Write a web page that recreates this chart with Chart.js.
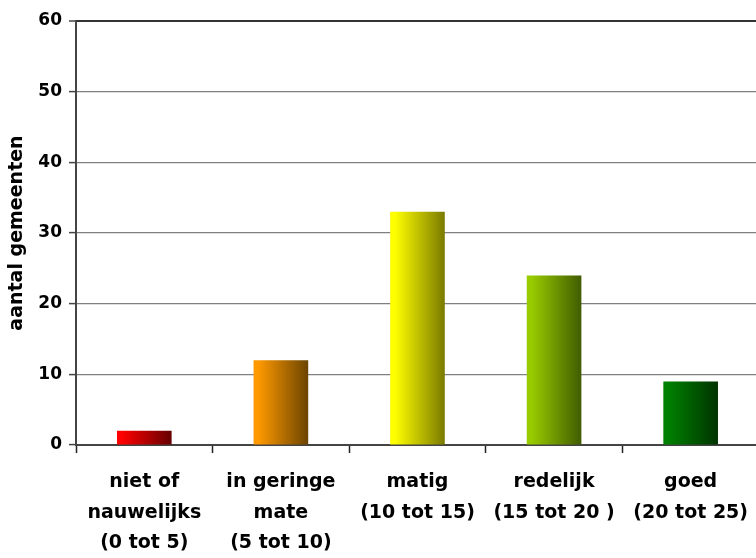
<!DOCTYPE html>
<html>
<head>
<meta charset="utf-8">
<title>aantal gemeenten</title>
<script src="https://cdn.jsdelivr.net/npm/chart.js@4/dist/chart.umd.min.js"></script>
<style>
  html, body { margin: 0; padding: 0; background: #ffffff; overflow: hidden; }
  #c { display: block; }
</style>
</head>
<body>
<!-- the plot runs slightly past the right edge of the window, so its right end is clipped -->
<canvas id="c" width="762" height="558"></canvas>
<script>
// Category labels (one entry per line of each label)
const categories = [
  ['niet of', 'nauwelijks', '(0 tot 5)'],
  ['in geringe', 'mate', '(5 tot 10)'],
  ['matig', '(10 tot 15)'],
  ['redelijk', '(15 tot 20 )'],
  ['goed', '(20 tot 25)']
];

// Number of municipalities per category
const counts = [2, 12, 33, 24, 9];

// Value axis range
const yMin = 0;
const yMax = 60;
const yStep = 10;

const yTitle = 'aantal gemeenten';

// Each bar is shaded from a bright left edge to a dark right edge
const lightColors = ['#ff0000', '#ff9900', '#ffff00', '#99cc00', '#008000'];
const darkColors  = ['#660000', '#6b4400', '#7a7a00', '#405c00', '#003300'];

const BAR_FRACTION = 0.4;
const FONT = '"DejaVu Sans", "Liberation Sans", Arial, sans-serif';

function barGradient(ctx) {
  const chart = ctx.chart;
  const xs = chart.scales && chart.scales.x;
  if (!chart.chartArea || !xs) return lightColors[ctx.dataIndex];
  const i = ctx.dataIndex;
  const center = xs.getPixelForValue(i);
  const half = (xs.width / categories.length) * BAR_FRACTION / 2;
  const g = chart.ctx.createLinearGradient(center - half, 0, center + half, 0);
  g.addColorStop(0, lightColors[i]);
  g.addColorStop(0.08, lightColors[i]);
  g.addColorStop(1, darkColors[i]);
  return g;
}

new Chart(document.getElementById('c'), {
  type: 'bar',
  data: {
    labels: categories,
    datasets: [{
      data: counts,
      backgroundColor: barGradient,
      borderWidth: 0,
      barPercentage: BAR_FRACTION,
      categoryPercentage: 1.0
    }]
  },
  options: {
    responsive: false,
    animation: false,
    devicePixelRatio: 1,
    layout: { padding: { top: 21, right: 0, bottom: 0, left: 0 } },
    plugins: {
      legend: { display: false },
      tooltip: { enabled: false }
    },
    scales: {
      x: {
        offset: true,
        grid: {
          offset: true,
          drawOnChartArea: false,
          drawTicks: true,
          tickLength: 8,
          tickColor: '#222222',
          tickWidth: 1.5
        },
        border: { display: true, color: '#444444', width: 2 },
        ticks: {
          color: '#000000',
          padding: 14,
          maxRotation: 0,
          minRotation: 0,
          autoSkip: false,
          font: { family: FONT, size: 19, weight: 'bold', lineHeight: 1.6 }
        },
        afterFit(scale) { scale.height = 113; }
      },
      y: {
        min: yMin,
        max: yMax,
        ticks: {
          stepSize: yStep,
          color: '#000000',
          padding: 7,
          font: { family: FONT, size: 17, weight: 'bold' }
        },
        grid: {
          color: (c) => (c.tick && c.tick.value === yMax ? '#333333' : '#808080'),
          lineWidth: (c) => (c.tick && c.tick.value === yMax ? 2 : 1.2),
          drawTicks: true,
          tickLength: 7,
          tickColor: '#444444',
          tickWidth: 1.5
        },
        border: { display: true, color: '#444444', width: 2 },
        title: {
          display: true,
          text: yTitle,
          color: '#000000',
          padding: { top: 6, bottom: 0 },
          font: { family: FONT, size: 19, weight: 'bold' }
        },
        afterFit(scale) { scale.width = 76; }
      }
    }
  }
});
</script>
</body>
</html>
